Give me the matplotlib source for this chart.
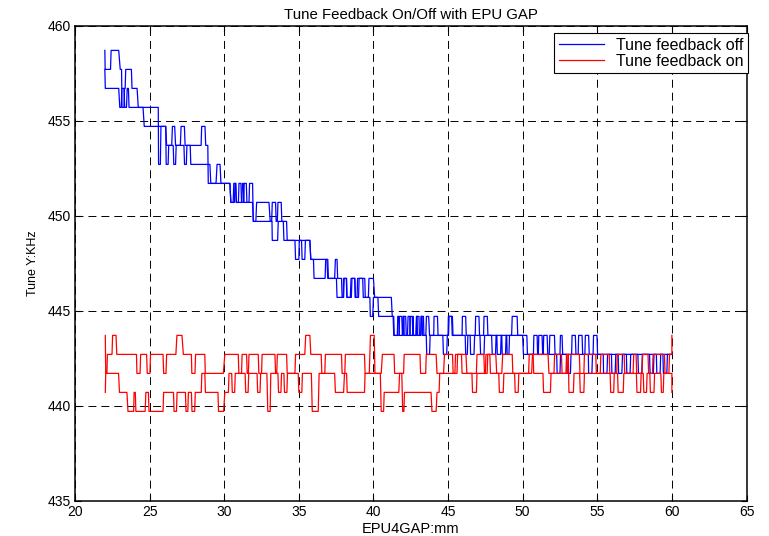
import matplotlib
matplotlib.use("Agg")
import matplotlib.pyplot as plt

plt.rcParams['font.family'] = ['Liberation Sans', 'DejaVu Sans']

# plateaus of the step traces: [gap start, gap end, tune]
# two passes per condition (gap scan out and back)
blue_off_a = [
    [22.00, 22.00, 458.7], [22.02, 22.38, 457.7], [22.42, 22.93, 458.7], [23.03, 23.12, 457.7],
    [23.15, 23.28, 455.7], [23.32, 23.36, 456.7], [23.40, 23.78, 457.7], [23.82, 24.16, 456.7],
    [24.24, 25.58, 455.7], [25.60, 25.72, 452.7], [25.76, 26.08, 454.7], [26.14, 26.48, 453.7],
    [26.53, 26.68, 454.7], [26.74, 27.06, 453.7], [27.11, 27.33, 454.7], [27.38, 28.45, 453.7],
    [28.49, 28.71, 454.7], [28.76, 28.90, 453.7], [28.93, 29.45, 451.7], [29.52, 29.72, 452.7],
    [29.78, 30.38, 451.7], [30.44, 30.60, 450.7], [30.64, 30.76, 451.7], [30.80, 30.95, 450.7],
    [30.99, 31.12, 451.7], [31.16, 31.30, 450.7], [31.34, 31.48, 451.7], [31.52, 31.66, 450.7],
    [31.70, 31.90, 451.7], [31.95, 32.12, 449.7], [32.17, 33.00, 450.7], [33.08, 33.18, 449.7],
    [33.22, 33.44, 450.7], [33.48, 33.56, 449.7], [33.60, 33.82, 450.7], [33.86, 34.18, 449.7],
    [34.22, 35.74, 448.7], [35.80, 36.88, 447.7], [36.94, 37.40, 446.7], [37.45, 37.56, 447.7],
    [37.60, 37.86, 446.7], [37.90, 38.00, 445.7], [38.04, 38.20, 446.7], [38.23, 38.45, 445.7],
    [38.50, 38.76, 446.7], [38.79, 38.90, 445.7], [38.94, 39.42, 446.7], [39.45, 39.66, 445.7],
    [39.70, 40.00, 446.7], [40.08, 41.20, 445.7], [41.26, 41.36, 444.7], [41.39, 41.60, 443.7],
    [41.63, 41.70, 444.7], [41.73, 41.95, 443.7], [41.98, 42.04, 444.7], [42.06, 42.28, 443.7],
    [42.32, 42.44, 444.7], [42.46, 42.62, 443.7], [42.65, 42.66, 444.7], [42.68, 42.84, 443.7],
    [42.88, 42.92, 444.7], [42.95, 43.17, 443.7], [43.20, 43.26, 444.7], [43.29, 43.51, 443.7],
    [43.55, 43.70, 444.7], [43.76, 44.04, 443.7], [44.06, 44.29, 444.7], [44.33, 45.03, 443.7],
    [45.07, 45.29, 444.7], [45.33, 45.94, 443.7], [45.96, 46.18, 444.7], [46.22, 46.82, 443.7],
    [46.85, 47.07, 444.7], [47.11, 47.38, 443.7], [47.41, 47.63, 444.7], [47.67, 49.26, 443.7],
    [49.30, 49.63, 444.7], [49.67, 50.28, 443.7], [50.32, 50.72, 442.7], [50.75, 50.97, 443.7],
    [51.00, 51.05, 442.7], [51.08, 51.30, 443.7], [51.34, 51.38, 442.7], [51.41, 51.64, 443.7],
    [51.68, 51.78, 442.7], [51.82, 52.13, 443.7], [52.17, 52.50, 442.7], [52.53, 52.64, 443.7],
    [52.68, 53.28, 442.7], [53.31, 53.53, 443.7], [53.57, 53.72, 442.7], [53.75, 53.98, 443.7],
    [54.02, 54.17, 442.7], [54.20, 54.42, 443.7], [54.46, 54.72, 442.7], [54.75, 54.98, 443.7],
    [55.02, 60.00, 442.7],
]

blue_off_b = [
    [22.00, 22.00, 457.7], [22.03, 22.93, 456.7], [23.00, 23.10, 455.7], [23.14, 23.28, 456.7],
    [23.33, 23.45, 455.7], [23.50, 23.58, 456.7], [23.62, 24.56, 455.7], [24.64, 26.08, 454.7],
    [26.11, 26.24, 452.7], [26.28, 26.58, 453.7], [26.62, 26.74, 452.7], [26.78, 27.30, 453.7],
    [27.34, 27.46, 452.7], [27.50, 27.72, 453.7], [27.76, 29.04, 452.7], [29.10, 30.38, 451.7],
    [30.45, 30.68, 450.7], [30.72, 30.78, 451.7], [30.82, 31.18, 450.7], [31.22, 31.28, 451.7],
    [31.32, 31.90, 450.7], [31.95, 33.20, 449.7], [33.22, 33.58, 448.7], [33.62, 33.96, 449.7],
    [34.00, 34.74, 448.7], [34.78, 35.00, 447.7], [35.03, 35.18, 448.7], [35.22, 35.40, 447.7],
    [35.44, 35.74, 448.7], [35.80, 35.98, 447.7], [36.02, 36.76, 446.7], [36.80, 36.94, 447.7],
    [36.98, 37.52, 446.7], [37.56, 37.96, 445.7], [38.00, 38.18, 446.7], [38.22, 38.52, 445.7],
    [38.56, 38.74, 446.7], [38.78, 39.00, 445.7], [39.04, 39.28, 446.7], [39.32, 39.76, 445.7],
    [39.79, 39.95, 444.7], [40.00, 40.30, 445.7], [40.35, 41.32, 444.7], [41.36, 41.72, 443.7],
    [41.75, 41.90, 444.7], [41.94, 42.00, 443.7], [42.02, 42.16, 444.7], [42.20, 42.44, 443.7],
    [42.47, 42.60, 444.7], [42.64, 42.88, 443.7], [42.90, 43.05, 444.7], [43.08, 43.18, 443.7],
    [43.20, 43.35, 444.7], [43.38, 43.54, 443.7], [43.57, 43.76, 442.7], [43.80, 44.65, 443.7],
    [44.69, 44.91, 442.7], [44.95, 45.00, 443.7], [45.02, 45.24, 444.7], [45.28, 46.15, 443.7],
    [46.18, 46.29, 442.7], [46.33, 46.48, 443.7], [46.51, 46.74, 442.7], [46.78, 47.14, 443.7],
    [47.18, 47.41, 442.7], [47.45, 47.92, 443.7], [47.96, 48.18, 442.7], [48.22, 48.27, 443.7],
    [48.30, 48.52, 442.7], [48.56, 48.60, 443.7], [48.63, 48.85, 442.7], [48.89, 48.93, 443.7],
    [48.96, 49.08, 442.7], [49.12, 50.00, 443.7], [50.05, 52.28, 442.7], [52.31, 52.50, 441.7],
    [52.54, 52.94, 442.7], [52.97, 53.20, 441.7], [53.24, 54.40, 442.7], [54.42, 54.64, 441.7],
    [54.68, 55.40, 442.7], [55.42, 55.65, 441.7], [55.69, 55.95, 442.7], [55.98, 56.20, 441.7],
    [56.24, 56.40, 442.7], [56.43, 56.65, 441.7], [56.69, 56.95, 442.7], [56.98, 57.20, 441.7],
    [57.24, 57.72, 442.7], [57.76, 57.98, 441.7], [58.02, 58.50, 442.7], [58.54, 58.76, 441.7],
    [58.80, 58.96, 442.7], [58.99, 59.21, 441.7], [59.25, 59.40, 442.7], [59.43, 59.66, 441.7],
    [59.70, 60.00, 442.7],
]

red_on_a = [
    [22.03, 22.03, 443.7], [22.06, 22.14, 441.7], [22.17, 22.48, 442.7], [22.52, 22.75, 443.7],
    [22.80, 24.12, 442.7], [24.15, 24.36, 441.7], [24.40, 24.80, 442.7], [24.84, 25.02, 441.7],
    [25.06, 25.90, 442.7], [25.94, 26.10, 441.7], [26.14, 26.76, 442.7], [26.83, 27.17, 443.7],
    [27.26, 27.80, 442.7], [27.83, 28.04, 441.7], [28.08, 28.70, 442.7], [28.73, 29.94, 441.7],
    [30.04, 30.94, 442.7], [30.98, 31.16, 441.7], [31.20, 31.50, 442.7], [31.54, 31.62, 441.7],
    [31.66, 32.28, 442.7], [32.32, 32.50, 441.7], [32.54, 33.40, 442.7], [33.44, 33.52, 441.7],
    [33.56, 34.18, 442.7], [34.22, 34.74, 441.7], [34.78, 35.40, 442.7], [35.46, 35.74, 443.7],
    [35.80, 36.50, 442.7], [36.54, 36.74, 441.7], [36.78, 37.86, 442.7], [37.90, 38.08, 441.7],
    [38.12, 39.40, 442.7], [39.44, 39.72, 441.7], [39.80, 40.05, 443.7], [40.10, 40.52, 441.7],
    [40.60, 41.38, 442.7], [41.42, 42.02, 441.7], [42.06, 43.12, 442.7], [43.16, 43.50, 441.7],
    [43.54, 44.20, 442.7], [44.26, 44.70, 441.7], [44.76, 45.30, 442.7], [45.34, 45.46, 441.7],
    [45.50, 46.20, 442.7], [46.26, 46.90, 441.7], [46.94, 47.40, 442.7], [47.44, 47.62, 441.7],
    [47.66, 48.20, 442.7], [48.26, 48.60, 441.7], [48.66, 49.30, 442.7], [49.34, 50.60, 441.7],
    [50.66, 51.70, 442.7], [51.76, 52.10, 441.7], [52.14, 52.60, 442.7], [52.64, 53.00, 441.7],
    [53.04, 53.80, 442.7], [53.84, 54.10, 441.7], [54.14, 54.90, 442.7], [54.94, 55.20, 441.7],
    [55.24, 55.80, 442.7], [55.84, 56.30, 441.7], [56.34, 56.80, 442.7], [56.84, 57.40, 441.7],
    [57.44, 57.60, 442.7], [57.64, 58.00, 441.7], [58.04, 58.40, 442.7], [58.44, 58.70, 441.7],
    [58.74, 59.50, 442.7], [59.54, 59.80, 441.7], [59.84, 60.00, 442.7], [60.00, 60.00, 443.7],
]

red_on_b = [
    [22.03, 22.03, 440.7], [22.06, 22.92, 441.7], [22.98, 23.48, 440.7], [23.55, 23.93, 439.7],
    [23.96, 24.04, 440.7], [24.08, 24.70, 439.7], [24.75, 24.92, 440.7], [24.96, 25.90, 439.7],
    [25.94, 26.60, 440.7], [26.64, 26.80, 439.7], [26.84, 27.40, 440.7], [27.44, 27.56, 439.7],
    [27.60, 27.80, 440.7], [27.84, 28.02, 439.7], [28.06, 28.46, 440.7], [28.50, 28.70, 441.7],
    [28.74, 29.58, 440.7], [29.62, 29.96, 439.7], [30.04, 30.28, 440.7], [30.32, 30.50, 441.7],
    [30.54, 30.70, 440.7], [30.74, 31.40, 441.7], [31.44, 31.60, 440.7], [31.64, 32.20, 441.7],
    [32.24, 32.40, 440.7], [32.44, 32.86, 441.7], [32.92, 33.08, 439.7], [33.12, 33.60, 441.7],
    [33.64, 33.80, 440.7], [33.84, 34.00, 441.7], [34.04, 34.20, 440.7], [34.24, 34.96, 441.7],
    [35.00, 35.20, 440.7], [35.24, 35.84, 441.7], [35.90, 36.30, 439.7], [36.36, 37.40, 441.7],
    [37.45, 38.00, 440.7], [38.06, 38.20, 441.7], [38.24, 38.40, 440.7], [38.44, 39.40, 440.7],
    [39.44, 40.46, 441.7], [40.52, 40.68, 439.7], [40.72, 41.70, 440.7], [41.75, 41.90, 441.7],
    [41.96, 42.04, 439.7], [42.08, 43.86, 440.7], [43.92, 44.20, 439.7], [44.26, 44.40, 440.7],
    [44.44, 45.60, 441.7], [45.64, 45.90, 442.7], [45.94, 46.60, 441.7], [46.64, 46.90, 440.7],
    [46.94, 47.50, 441.7], [47.54, 47.80, 442.7], [47.84, 48.40, 441.7], [48.44, 48.70, 440.7],
    [48.74, 49.46, 441.7], [49.50, 49.70, 440.7], [49.74, 50.40, 441.7], [50.44, 50.70, 442.7],
    [50.74, 51.36, 441.7], [51.40, 51.86, 440.7], [51.90, 52.90, 441.7], [52.94, 53.06, 442.7],
    [53.10, 53.40, 440.7], [53.44, 53.82, 441.7], [53.86, 54.10, 440.7], [54.14, 55.86, 441.7],
    [55.90, 56.10, 440.7], [56.14, 56.36, 441.7], [56.40, 56.74, 440.7], [56.78, 57.62, 441.7],
    [57.66, 57.90, 440.7], [57.94, 58.08, 441.7], [58.12, 58.30, 440.7], [58.34, 58.52, 441.7],
    [58.56, 58.80, 440.7], [58.84, 59.26, 441.7], [59.30, 59.42, 440.7], [59.46, 60.00, 441.7],
    [60.00, 60.00, 440.7],
]

x_ticks = [20, 25, 30, 35, 40, 45, 50, 55, 60, 65]
y_ticks = [435, 440, 445, 450, 455, 460]


def unpack(plateaus):
    # each plateau gives its two end samples
    xs, ys = [], []
    for x0, x1, level in plateaus:
        xs += [x0, x1]
        ys += [level, level]
    return xs, ys


fig = plt.figure(figsize=(7.69, 5.36), dpi=100)
ax = fig.add_axes([75 / 769, 1 - 500.7 / 536, 671.5 / 769, 475 / 536])

xs, ys = unpack(blue_off_a)
ax.plot(xs, ys, color='b', lw=0.9, label='Tune feedback off')
xs, ys = unpack(blue_off_b)
ax.plot(xs, ys, color='b', lw=0.9)
xs, ys = unpack(red_on_a)
ax.plot(xs, ys, color='r', lw=0.9, label='Tune feedback on')
xs, ys = unpack(red_on_b)
ax.plot(xs, ys, color='r', lw=0.9)

ax.set_xlim(20, 65)
ax.set_ylim(435, 460)
ax.set_xticks(x_ticks)
ax.set_yticks(y_ticks)
ax.grid(True, color='k', lw=0.7, linestyle=(0, (8.2, 5.1)))
ax.tick_params(direction='in', top=True, right=True, length=4, labelsize=10, pad=3)
for sp in ax.spines.values():
    sp.set_linewidth(1.1)

ax.set_title('Tune Feedback On/Off with EPU GAP', fontsize=10.8, pad=5)
ax.set_xlabel('EPU4GAP:mm', fontsize=10.5, labelpad=2)
ax.set_ylabel('Tune Y:KHz', fontsize=9, labelpad=6)

leg = ax.legend(loc='upper right', bbox_to_anchor=(748 / 769, 1 - 33 / 536),
                bbox_transform=fig.transFigure, fancybox=False, framealpha=1,
                edgecolor='k', fontsize=11.5, handlelength=2.8, handletextpad=0.75,
                borderpad=0.3, labelspacing=0.05, borderaxespad=0)
leg.get_frame().set_linewidth(0.8)

fig.savefig('out.png', dpi=100)
